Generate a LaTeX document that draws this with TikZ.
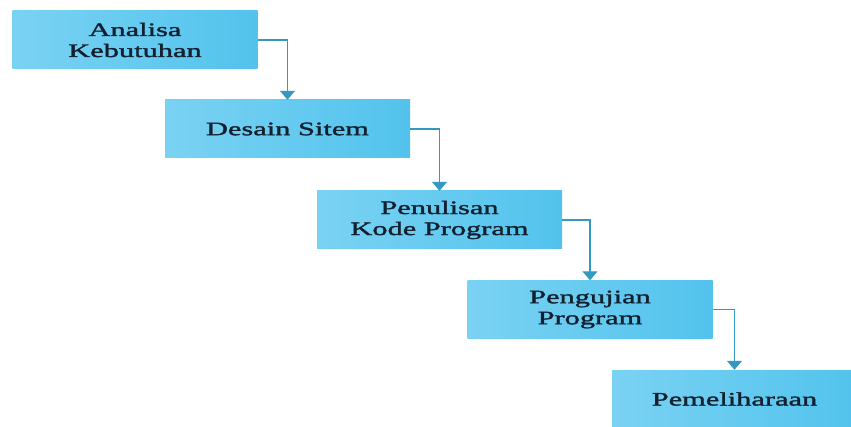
\documentclass[tikz,border=0pt]{standalone}
\usepackage{fontspec}
\usepackage{tikz}
\usetikzlibrary{arrows.meta}
\newfontfamily\boxfont[FakeStretch=1.6,FakeBold=1.7]{Liberation Serif}
\definecolor{boxlight}{RGB}{122,210,243}
\definecolor{boxdark}{RGB}{82,195,237}
\definecolor{flowblue}{RGB}{52,152,192}
\definecolor{textnavy}{RGB}{18,32,48}
\tikzset{
  stepnode/.style = {rectangle, align=center, inner sep=0pt,
    minimum width=245pt, minimum height=58pt,
    left color=boxlight, right color=boxdark, text=textnavy,
    font=\boxfont\fontsize{19}{21}\selectfont},% blue box
  flow/.style = {draw=flowblue, line width=1.3pt,
    -{Triangle[width=15pt,length=9pt]}}% elbow arrow
}

\begin{document}
\begin{tikzpicture}[x=1pt,y=1pt]
\useasboundingbox (0,0) rectangle (851,426);
\node [stepnode] (analisa) at (135,386) {Analisa\\Kebutuhan};
\node [stepnode] (desain) at (287.5,297) {Desain Sitem};
\node [stepnode] (kode) at (439.5,206) {Penulisan\\Kode Program};
\node [stepnode] (uji) at (590,116.5) {Pengujian\\Program};
\node [stepnode] (pelihara) at (734.5,27) {Pemeliharaan};

\draw [flow] (analisa.east) -| (desain.north);
\draw [flow] (desain.east) -| (kode.north);
\draw [flow] (kode.east) -| (uji.north);
\draw [flow] (uji.east) -| (pelihara.north);
\end{tikzpicture}
\end{document}
